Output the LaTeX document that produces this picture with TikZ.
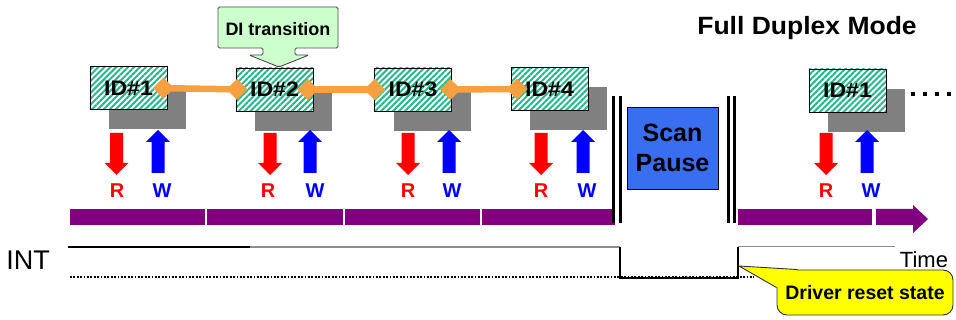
\documentclass[tikz,border=0pt]{standalone}
\usepackage{fontspec}
\setmainfont{Liberation Sans}
\newfontfamily\widesans[FakeStretch=1.1]{Liberation Sans}
\newfontfamily\semiwide[FakeStretch=1.06]{Liberation Sans}
\usetikzlibrary{arrows.meta,patterns.meta,shadows}
\definecolor{hatch}{RGB}{38,184,140}
\definecolor{shade}{RGB}{128,128,128}
\definecolor{orng}{RGB}{247,160,66}
\definecolor{purp}{RGB}{128,0,128}
\definecolor{scanblue}{RGB}{58,110,240}
\definecolor{dilight}{RGB}{204,255,204}
\definecolor{callyel}{RGB}{255,255,0}
\definecolor{intgray}{RGB}{140,140,140}
\tikzset{
  idbox/.style={draw=black, line width=0.9pt,
    general shadow={fill=shade, shadow xshift=19pt, shadow yshift=-20pt},
    preaction={fill=white},
    pattern={Lines[angle=45,distance=4.2pt,line width=2pt]}, pattern color=hatch,
    minimum width=77pt, minimum height=43pt, inner sep=0pt,
    font=\widesans\bfseries\fontsize{21}{21}\selectfont},
  dup/.style={orng, line width=6.5pt,
    {Diamond[length=21pt,width=21pt]}-{Diamond[length=21pt,width=21pt]}},
  rlab/.style={text=red, font=\bfseries\fontsize{20}{20}\selectfont, inner sep=0pt},
  wlab/.style={text=blue, font=\bfseries\fontsize{20}{20}\selectfont, inner sep=0pt},
  pics/rarrow/.style={code={\fill[red] (-6.5,0) -- (6.5,0) -- (6.5,30) -- (12,30) -- (0,42) -- (-12,30) -- (-6.5,30) -- cycle;}},
  pics/warrow/.style={code={\fill[blue] (-6.5,0) -- (6.5,0) -- (6.5,-31) -- (12,-31) -- (0,-43) -- (-12,-31) -- (-6.5,-31) -- cycle;}},
  bar/.style={fill=purp},
  sep/.style={line width=2.6pt, black},
}
\begin{document}
\begin{tikzpicture}[x=1pt,y=-1pt]
\useasboundingbox (0,0) rectangle (956,320);

% title
\node[font=\semiwide\bfseries\fontsize{25}{25}\selectfont] (title) at (807,28) {Full Duplex Mode};

% ID boxes
\node[idbox] (id1) at (128.5,88) {ID\#1};
\node[idbox] (id2) at (274.5,89.5) {ID\#2};
\node[idbox] (id3) at (413,89.5) {ID\#3};
\node[idbox] (id4) at (549.5,89) {ID\#4};
\node[idbox] (id5) at (847.5,90.5) {ID\#1};
\draw[line width=4pt, dash pattern=on 4pt off 8pt] (911,94) -- (951,94);

% DI transition callout
\draw[fill=dilight, draw=black!70, line width=0.9pt, rounded corners=1.5pt]
  (218,7) -- (338,7) -- (338,48) -- (295,48) -- (295,55) -- (309,55)
  -- (279,67) -- (249,55) -- (263,55) -- (263,48) -- (218,48) -- cycle;
\node[font=\bfseries\fontsize{18}{18}\selectfont] (di) at (278,29) {DI transition};

% orange links
\draw[dup] ([xshift=-15pt]id1.east) -- ([xshift=12pt]id2.west);
\draw[dup] ([xshift=-16pt]id2.east) -- ([xshift=11pt]id3.west);
\draw[dup] ([xshift=-12pt]id3.east) -- ([xshift=17pt]id4.west);

% R / W arrows
\foreach \rx/\wx/\rl/\wl [count=\i] in {116.5/158/117/162, 270/310/268/315, 408/449/408/452, 541/583/541/587, 826/867/826/871}{
  \pic at (\rx,133) {rarrow};
  \pic at (\wx,173) {warrow};
  \node[rlab] (r\i) at (\rl,191) {R};
  \node[wlab] (w\i) at (\wl,191) {W};
}

% Scan Pause
\node[draw=black, line width=0.9pt, fill=scanblue, minimum width=91pt, minimum height=82pt,
  align=center, font=\bfseries\fontsize{25}{30}\selectfont] (scan) at (672.5,148) {Scan\\Pause};

% purple time bar
\fill[bar] (70,209) rectangle (205,225);
\fill[bar] (207,209) rectangle (343,225);
\fill[bar] (345,209) rectangle (480,225);
\fill[bar] (482,209) rectangle (615,225);
\fill[bar] (738,209) rectangle (872,225);
\fill[bar] (876,209) -- (913,209) -- (913,205) -- (928,219) -- (913,233) -- (913,225) -- (876,225) -- cycle;

% separators
\draw[sep] (613.5,96) -- (613.5,223);
\draw[sep] (620.5,96) -- (620.5,223);
\draw[sep] (728.5,96) -- (728.5,223);
\draw[sep] (734.5,96) -- (734.5,223);

% INT signal
\node[font=\fontsize{27}{27}\selectfont] (int) at (28,260) {INT};
\node[font=\fontsize{22}{22}\selectfont] (time) at (924,260) {Time};
\draw[intgray, line width=1.6pt] (68,247) -- (620,247);
\draw[black, line width=1.4pt] (68,247) -- (250,247);
\draw[black, line width=1.6pt] (620,247) -- (620,278) -- (738,278) -- (738,247);
\draw[intgray, line width=1.8pt] (738,246.5) -- (895,246.5);
\draw[black, line width=2pt, dash pattern=on 1.8pt off 1.6pt] (70,277) -- (754,277);

% Driver reset state callout
\node[draw=black!80, line width=0.9pt, fill=callyel, rounded corners=10pt,
  minimum width=176pt, minimum height=45pt] (drv) at (865,292.5) {};
\coordinate (drvtip) at (739,266);
\fill[callyel] (drvtip) -- ([yshift=-18pt]drv.north west) -- ([shift={(5pt,-15pt)}]drv.north west) -- ([xshift=21pt]drv.north west) -- cycle;
\draw[black!80, line width=0.9pt] ([yshift=-18pt]drv.north west) -- (drvtip) -- ([xshift=21pt]drv.north west);
\node[font=\bfseries\fontsize{19.5}{19.5}\selectfont] (drvtext) at (drv.center) {Driver reset state};
\end{tikzpicture}
\end{document}
